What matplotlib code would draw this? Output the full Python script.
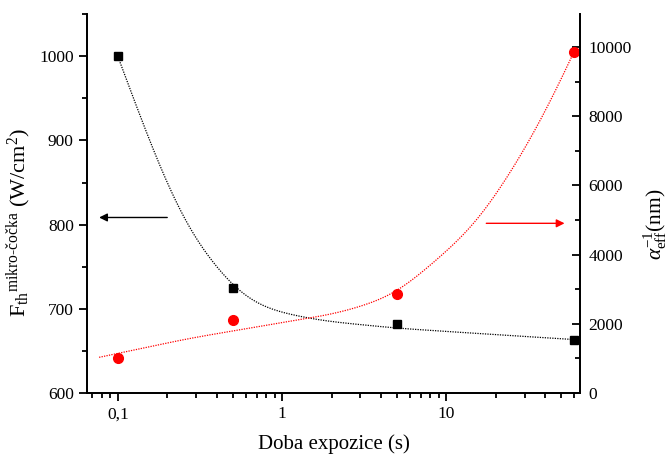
import matplotlib
matplotlib.use('Agg')
import matplotlib.pyplot as plt
import numpy as np
from matplotlib.ticker import FixedLocator, FuncFormatter, MultipleLocator, LogLocator, NullFormatter

plt.rcParams['font.family'] = ['Liberation Serif', 'DejaVu Serif']
plt.rcParams['mathtext.fontset'] = 'custom'
plt.rcParams['mathtext.rm'] = 'Liberation Serif'
plt.rcParams['mathtext.it'] = 'Liberation Serif:italic'

# measured points
doba = [0.1, 0.5, 5, 60]
prah = [1000, 725, 681.5, 663.5]          # F_th mikro-čočka (W/cm2), levá osa
alfa = [1003, 2100, 2870, 9865]           # alpha_eff^-1 (nm), pravá osa

# fit curves
fit_cerna_x = [0.1, 0.142, 0.197, 0.285, 0.433, 0.571, 0.792, 1.045, 1.45, 2.0, 5, 17.7, 60]
fit_cerna_y = [1000, 920, 849, 786, 740, 716, 700.5, 694.6, 688.7, 684.6, 677, 670, 663.5]
fit_cervena_x = [0.077, 0.272, 1.08, 2.19, 3.49, 5.0, 11.6, 15.5, 19.8, 30.9, 44.8, 60]
fit_cervena_y = [1032, 1581, 2061, 2303, 2592, 2870, 4350, 4950, 5670, 7120, 8560, 9865]


def hladka(xs, ys, sigma=0.07):
    # lomenou caru v log(x) vyhladi gaussem, aby nebyly videt zlomy
    u = np.log10(xs)
    y = np.asarray(ys, dtype=float)
    pad = 4 * sigma
    du = pad / 120
    g = np.arange(u[0] - pad, u[-1] + pad + du / 2, du)
    yg = np.interp(g, u, y)
    lev = g < u[0]
    yg[lev] = y[0] + (g[lev] - u[0]) * (y[1] - y[0]) / (u[1] - u[0])
    pra = g > u[-1]
    yg[pra] = y[-1] + (g[pra] - u[-1]) * (y[-1] - y[-2]) / (u[-1] - u[-2])
    k = np.arange(-120, 121) * du
    w = np.exp(-0.5 * (k / sigma) ** 2)
    w /= w.sum()
    yh = np.convolve(yg, w, mode='same')
    m = (g >= u[0]) & (g <= u[-1])
    return 10 ** g[m], yh[m]


fig = plt.figure(figsize=(6.72, 4.57), dpi=100)
ax = fig.add_axes([0.1295, 0.140, 0.7335, 0.829])
ax2 = ax.twinx()

cx, cy = hladka(fit_cerna_x, fit_cerna_y, sigma=0.09)
ax.plot(cx, cy, ls=(0, (1, 1)), color='black', lw=0.9)
ax.plot(doba, prah, 's', color='black', ms=6, ls='none')
rx, ry = hladka(fit_cervena_x, fit_cervena_y, sigma=0.11)
ax2.plot(rx, ry, ls=(0, (1, 1)), color='red', lw=0.9)
ax2.plot(doba, alfa, 'o', color='red', ms=7, ls='none')

ax.set_xscale('log')
ax.set_xlim(0.065, 65)
ax.set_ylim(600, 1050)
ax2.set_ylim(0, 10950)

ax.xaxis.set_major_locator(FixedLocator([0.1, 1, 10]))
ax.xaxis.set_major_formatter(FuncFormatter(lambda v, p: {0.1: '0,1', 1: '1', 10: '10'}.get(round(v, 3), '')))
ax.xaxis.set_minor_locator(LogLocator(base=10, subs=range(2, 10)))
ax.xaxis.set_minor_formatter(NullFormatter())

ax.yaxis.set_major_locator(MultipleLocator(100))
ax.yaxis.set_minor_locator(MultipleLocator(50))
ax2.yaxis.set_major_locator(MultipleLocator(2000))
ax2.yaxis.set_minor_locator(MultipleLocator(1000))

for a in (ax, ax2):
    a.spines['top'].set_visible(False)
    for s in a.spines.values():
        s.set_linewidth(1.3)
ax.tick_params(which='major', direction='out', length=6, width=1.3, labelsize=12.5)
ax.tick_params(which='minor', direction='out', length=3.5, width=1.3)
ax.tick_params(axis='y', which='both', right=False)
ax2.tick_params(which='major', direction='in', length=6, width=1.3, labelsize=12.5, pad=6)
ax2.tick_params(which='minor', direction='in', length=3.5, width=1.3)

ax.set_xlabel('Doba expozice (s)', fontsize=15, labelpad=9)
ax.set_ylabel(r'$\mathrm{F}_{\mathrm{th}}{}^{\mathrm{mikro\text{-}čočka}}$ (W/cm$^{2}$)', fontsize=16)
ax.yaxis.set_label_coords(-0.108, 0.45)
ax2.set_ylabel(r'$\alpha_{\mathrm{eff}}^{-1}$(nm)', fontsize=15.5, rotation=90)
ax2.yaxis.set_label_coords(1.125, 0.446)

# sipky k osam
ax.annotate('', xy=(0.077, 808.5), xytext=(0.2, 808.5),
            arrowprops=dict(arrowstyle='-|>', color='black', lw=1, mutation_scale=12, shrinkA=0, shrinkB=0))
ax2.annotate('', xy=(52.4, 4905), xytext=(17.5, 4905),
             arrowprops=dict(arrowstyle='-|>', color='red', lw=1, mutation_scale=12, shrinkA=0, shrinkB=0))

plt.savefig('out.png', dpi=100)
